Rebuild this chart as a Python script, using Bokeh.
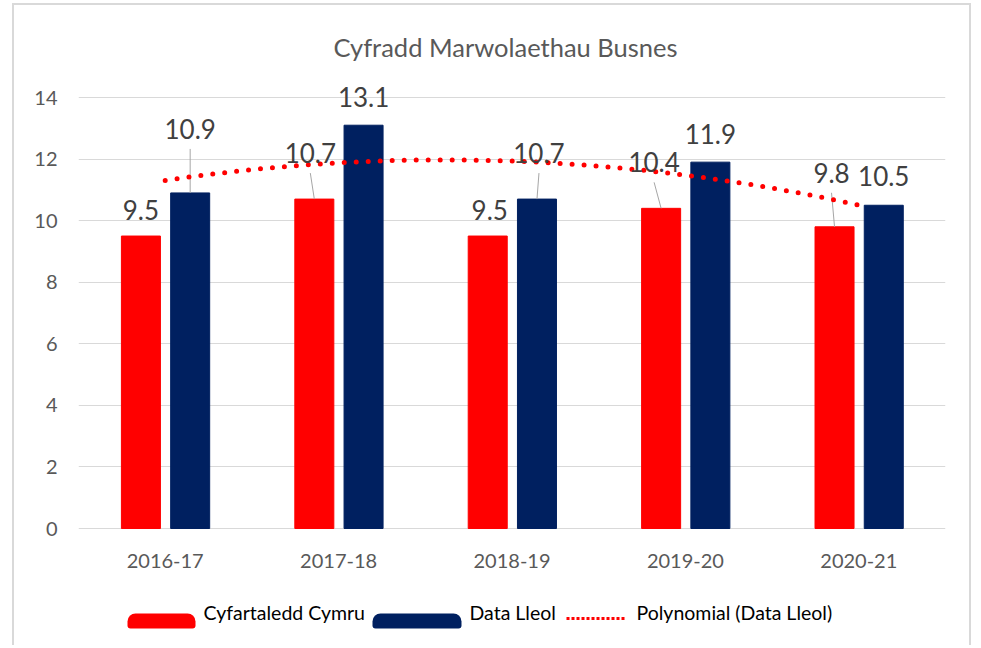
import numpy as np
from bokeh.plotting import figure
from bokeh.models import (ColumnDataSource, LabelSet, Label, BoxAnnotation, Arrow,
                          FixedTicker)
from bokeh.core.properties import value
from bokeh.embed import file_html
from bokeh.resources import INLINE

# ---------------- data ----------------
categories = ["2016-17", "2017-18", "2018-19", "2019-20", "2020-21"]
cyfartaledd_cymru = [9.5, 10.7, 9.5, 10.4, 9.8]
data_lleol = [10.9, 13.1, 10.7, 11.9, 10.5]
y_ticks = [0, 2, 4, 6, 8, 10, 12, 14]
series_names = ["Cyfartaledd Cymru", "Data Lleol", "Polynomial (Data Lleol)"]
title_text = "Cyfradd Marwolaethau Busnes"

# ---------------- layout / style ----------------
RED = "#ff0000"
NAVY = "#002060"
GREY_TXT = "#595959"
FONT = "Lato"
OX, OY = 14, 5                      # canvas origin on the page
W, H = 959, 642
P_LEFT, P_RIGHT, P_TOP, P_BOTTOM = 78, 945, 97, 528   # plot area (page px) for x range / 0..14
YMAX = 14
px_per_x = (P_RIGHT - P_LEFT) / 5.0
px_per_y = (P_BOTTOM - P_TOP) / float(YMAX)
def dx(px):   # page px -> data x
    return (px - P_LEFT) / px_per_x - 0.5
def dy(py):   # page py -> data y
    return (P_BOTTOM - py) / px_per_y

bar_w = 0.225
off_red, off_blue = -0.14, 0.144
# label placement (px): horizontal shift, height of label centre above bar top
red_lab_dx = [0, -4, 2, -7, -3]
red_lab_up = [26, 46, 26, 46, 54]
blue_lab_dx = [0, 0, 2, 0, 0]
blue_lab_up = [64, 28, 46, 28, 29]
red_leader = [False, True, False, True, True]
blue_leader = [True, False, True, False, False]

p = figure(width=W, height=H, output_backend="svg", toolbar_location=None,
           x_range=(-0.5, 4.5), y_range=(dy(OY + H), dy(OY)),
           min_border_left=P_LEFT - OX, min_border_right=OX + W - P_RIGHT,
           min_border_top=0, min_border_bottom=0)
p.styles = {"margin-left": "12px", "margin-top": "3px",
            "border-left": "2px solid #d9d9d9", "border-top": "2px solid #d9d9d9",
            "border-right": "2px solid #d9d9d9"}
p.outline_line_color = None
p.background_fill_color = "white"
p.border_fill_color = "white"
p.xgrid.grid_line_color = None
p.ygrid.grid_line_color = "#d9d9d9"
p.ygrid.grid_line_width = 1
p.xaxis.visible = False

p.yaxis.ticker = FixedTicker(ticks=y_ticks)
p.yaxis.axis_line_color = None
p.yaxis.major_tick_line_color = None
p.yaxis.minor_tick_line_color = None
p.yaxis.major_tick_out = 0
p.yaxis.major_label_standoff = 21
p.yaxis.major_label_text_font = FONT
p.yaxis.major_label_text_font_size = "20px"
p.yaxis.major_label_text_color = GREY_TXT

xi = list(range(len(categories)))
# category labels under the zero line
p.text(x=xi, y=[dy(560)] * len(xi), text=categories, text_align="center",
       text_baseline="middle", text_font=value(FONT), text_font_size="20px",
       text_color=GREY_TXT)

xr = [i + off_red for i in xi]
xb = [i + off_blue for i in xi]
src_r = ColumnDataSource(dict(x=xr, top=cyfartaledd_cymru,
                              lx=[x + d / px_per_x for x, d in zip(xr, red_lab_dx)],
                              ly=[v + u / px_per_y for v, u in zip(cyfartaledd_cymru, red_lab_up)],
                              txt=[f"{v:.1f}" for v in cyfartaledd_cymru]))
src_b = ColumnDataSource(dict(x=xb, top=data_lleol,
                              lx=[x + d / px_per_x for x, d in zip(xb, blue_lab_dx)],
                              ly=[v + u / px_per_y for v, u in zip(data_lleol, blue_lab_up)],
                              txt=[f"{v:.1f}" for v in data_lleol]))
p.vbar(x="x", top="top", width=bar_w, bottom=0, source=src_r, color=RED)
p.vbar(x="x", top="top", width=bar_w, bottom=0, source=src_b, color=NAVY)

# leader lines
lx0, ly0, lx1, ly1 = [], [], [], []
for xs, vals, ddx, up, show in ((xr, cyfartaledd_cymru, red_lab_dx, red_lab_up, red_leader),
                                (xb, data_lleol, blue_lab_dx, blue_lab_up, blue_leader)):
    for x, v, d, u, s in zip(xs, vals, ddx, up, show):
        if s:
            lx0.append(x); ly0.append(v)
            lx1.append(x + d / px_per_x); ly1.append(v + (u - 20) / px_per_y)
p.segment(lx0, ly0, lx1, ly1, line_color="#a6a6a6", line_width=1)

# polynomial trend (order 2) of Data Lleol
coef = np.polyfit(xi, data_lleol, 2)
tx = np.linspace(xi[0], xi[-1], 200)
p.line(tx, np.polyval(coef, tx), line_color=RED, line_width=5,
       line_dash="0 12", line_cap="round")

for src in (src_r, src_b):
    p.add_layout(LabelSet(x="lx", y="ly", text="txt", source=src,
                          text_align="center", text_baseline="middle",
                          text_font=value(FONT), text_font_size="26px",
                          text_color="#404040"))

# title
p.add_layout(Label(x=dx(505), y=dy(46), text=title_text, text_align="center",
                   text_baseline="middle", text_font=FONT,
                   text_font_size="25.5px", text_color=GREY_TXT))

# legend (custom, drawn below the axis)
p.add_layout(BoxAnnotation(left=dx(127), right=dx(195), top=dy(613), bottom=dy(628),
                           fill_color=RED, fill_alpha=1, line_color=None,
                           border_radius=(8, 8, 3, 3)))
p.add_layout(BoxAnnotation(left=dx(372), right=dx(461), top=dy(613), bottom=dy(628),
                           fill_color=NAVY, fill_alpha=1, line_color=None,
                           border_radius=(8, 8, 3, 3)))
p.add_layout(Arrow(x_start=dx(566), y_start=dy(618), x_end=dx(624), y_end=dy(618),
                   start=None, end=None, line_color=RED, line_width=3,
                   line_dash="3 2"))
for txt, xpx in zip(series_names, (203, 469, 636)):
    p.add_layout(Label(x=dx(xpx), y=dy(612), text=txt, text_align="left",
                       text_baseline="middle", text_font=FONT,
                       text_font_size="19.5px", text_color="#000000"))

open("out.html", "w").write(file_html(p, INLINE))
